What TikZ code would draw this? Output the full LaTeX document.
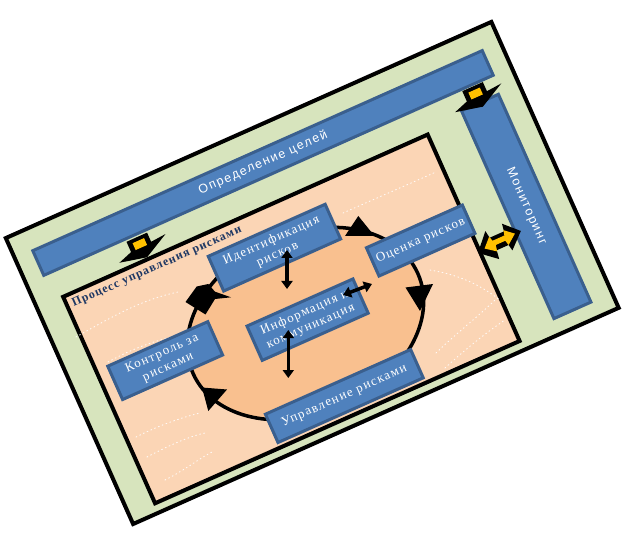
\documentclass[tikz,border=0pt]{standalone}
\usepackage{fontspec}
\setmainfont{Liberation Serif}
\newfontfamily\boxfont[LetterSpace=10]{Liberation Serif}
\newfontfamily\barfont[LetterSpace=12]{Liberation Sans}
\newfontfamily\titlefont[LetterSpace=8]{Liberation Serif}
\usetikzlibrary{arrows.meta}
\definecolor{outergreen}{HTML}{D7E4BD}
\definecolor{peach}{HTML}{FBD5B5}
\definecolor{blobcol}{HTML}{F9C08F}
\definecolor{boxblue}{HTML}{4F81BD}
\definecolor{boxedge}{HTML}{3A5F8E}
\definecolor{titleblue}{HTML}{1F3864}
\definecolor{arrowyellow}{HTML}{FFC000}
\begin{document}
\begin{tikzpicture}[x=1pt,y=1pt,
  local/.style={shift={(314.5,-272.5)},rotate=24},
  frame/.style={draw=black,line width=4pt,line join=miter},
  bluebox/.style={draw=boxedge,line width=3pt,fill=boxblue,inner sep=0pt,transform shape,
    text=white,align=center,font=\boxfont\fontsize{13}{15}\selectfont},
  bartext/.style={text=white,inner sep=0pt,transform shape,font=\barfont\fontsize{12.5}{14}\selectfont},
  titletext/.style={text=titleblue,inner sep=0pt,transform shape,anchor=west,font=\titlefont\bfseries\fontsize{12}{14}\selectfont},
  cycleline/.style={draw=black,line width=3.5pt},
  smallarrow/.style={line width=3.5pt,{Triangle[width=11pt,length=8pt]}-{Triangle[width=11pt,length=8pt]}},
  dotline/.style={white,line width=0.9pt,dash pattern=on 0.9pt off 3.2pt,line cap=round,opacity=0.9},
  headfill/.style={fill=black},
  yellowfill/.style={fill=arrowyellow}
]
\useasboundingbox (0,0) rectangle (642,-534);

% frames and bars (local, rotated frame)
\begin{scope}[local]
  \draw[frame,fill=outergreen] (-268,-156) rectangle (263.5,157);
  \node[bluebox,minimum width=492pt,minimum height=27pt] (goal) at (-2.5,121) {};
  \node[bartext] (goaltext) at (goal.center) {Определение целей};
  \node[bluebox,minimum width=40.5pt,minimum height=227.5pt] (mon) at (220.25,-25.75) {};
  \node[bartext,rotate=-90] (montext) at (mon.center) {Мониторинг};
  \draw[frame,fill=peach] (-239.5,-146) rectangle (159.5,80);
\end{scope}

% faint dotted decoration (screen coordinates)
\draw[dotline] (76,-337) .. controls (110,-318) and (140,-300) .. (178,-292);
\draw[dotline] (108,-362) .. controls (130,-350) and (150,-342) .. (176,-336);
\draw[dotline] (136,-437) .. controls (160,-425) and (180,-418) .. (200,-413);
\draw[dotline] (147,-457) .. controls (170,-445) and (190,-436) .. (205,-433);
\draw[dotline] (165,-480) .. controls (185,-470) and (200,-458) .. (212,-452);
\draw[dotline] (343,-213) -- (436,-172);
\draw[dotline] (436,-353) .. controls (460,-330) and (480,-315) .. (495,-300);
\draw[dotline] (445,-368) .. controls (470,-345) and (490,-330) .. (505,-320);
\draw[dotline] (430,-270) .. controls (460,-275) and (480,-285) .. (500,-300);

% cycle
\begin{scope}[local]
  \fill[blobcol] (-29,-43) ellipse [x radius=123, y radius=90];
  \draw[cycleline] (-29,-43) ellipse [x radius=123, y radius=90];
\end{scope}

% cycle arrowheads (screen coordinates)
\fill[headfill] (358.3,-216) -- (345,-236) -- (374.5,-236) -- cycle;
\fill[headfill] (405.5,-287.5) -- (433,-284) -- (420,-311) -- cycle;
\fill[headfill] (202,-387.5) -- (227,-389.5) -- (208.3,-411) -- cycle;
\fill[headfill] (185.5,-302) -- (196.7,-286.5) -- (208.3,-284) -- (215,-291.7) -- (231,-297.3) -- (215,-299) -- (205.5,-314.5) -- cycle;

% process boxes
\begin{scope}[local]
  \node[titletext] (title) at (-234,69) {Процесс управления рисками};
  \node[bluebox,minimum width=128pt,minimum height=38pt] (ident) at (-26.5,39) {Идентификация\\рисков};
  \node[bluebox,minimum width=116pt,minimum height=37.5pt] (info) at (-25.5,-40.25) {Информация и\\коммуникация};
  \node[bluebox,minimum width=105pt,minimum height=31pt] (assess) at (110,-14) {Оценка рисков};
  \node[bluebox,minimum width=109.5pt,minimum height=36.5pt] (control) at (-172.25,-19.75) {Контроль за\\рисками};
  \node[bluebox,minimum width=159pt,minimum height=31pt] (manage) at (-23,-125) {Управление рисками};
\end{scope}

% small black double arrows
\coordinate (a1s) at (287,-250);
\coordinate (a1e) at (287,-289);
\coordinate (a2s) at (288.3,-330);
\coordinate (a2e) at (288.3,-378);
\coordinate (a3s) at (343,-295);
\coordinate (a3e) at (372,-284);
\draw[smallarrow] (a1s) -- (a1e);
\draw[smallarrow] (a2s) -- (a2e);
\draw[smallarrow] (a3s) -- (a3e);

% yellow block arrows (local frame)
\begin{scope}[local,shift={(-148,92)},scale=1.25]
  \fill[headfill] (-9,10) -- (9,10) -- (9,2) -- (22,3) -- (1,-8) -- (-21,-3) -- (-9,1) -- cycle;
  \fill[yellowfill] (-5,7) rectangle (5,1);
\end{scope}
\begin{scope}[local,shift={(220,93)},scale=1.25]
  \fill[headfill] (-9,10) -- (9,10) -- (9,2) -- (22,3) -- (1,-8) -- (-21,-3) -- (-9,1) -- cycle;
  \fill[yellowfill] (-5,7) rectangle (5,1);
\end{scope}
\begin{scope}[local,shift={(182,-46)},scale=1.3]
  \fill[headfill] (-19,-2) -- (-7,11) -- (-6,5) -- (6,5) -- (7,11) -- (18,0) -- (6,-11) -- (5,-6) -- (-5,-6) -- (-6,-13) -- cycle;
  \fill[yellowfill] (-13,-1) -- (-6,6) -- (-5,2) -- (5,2) -- (6,6) -- (13,0) -- (5,-6) -- (4,-2) -- (-4,-2) -- (-5,-7) -- cycle;
\end{scope}
\end{tikzpicture}
\end{document}
